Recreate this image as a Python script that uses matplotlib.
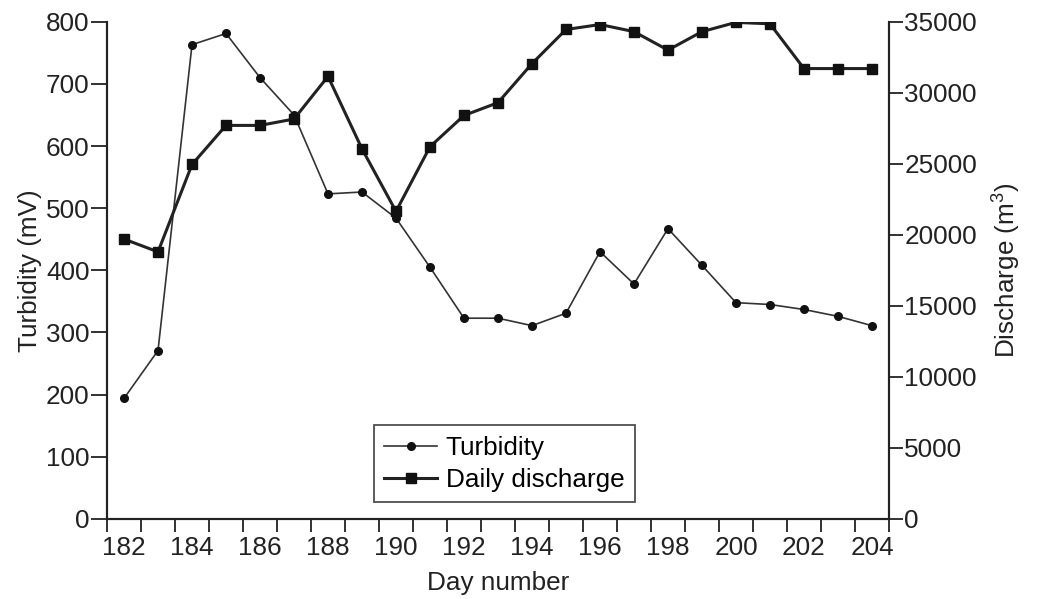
import numpy as np
import matplotlib
matplotlib.use('Agg')
import matplotlib.pyplot as plt
from matplotlib.ticker import MultipleLocator

plt.rcParams['font.family'] = ['Liberation Sans', 'DejaVu Sans']
plt.rcParams['mathtext.default'] = 'regular'

# day numbers, one reading per day
days = list(range(182, 205))

# turbidity in mV (left axis)
turbidity = [194, 271, 763, 781, 710, 650, 523, 526, 484, 405, 323, 323, 311, 331,
             430, 378, 467, 408, 348, 345, 337, 326, 311]

# daily discharge in m3 (right axis)
discharge = [19700, 18800, 24950, 27700, 27700, 28150, 31150, 26050, 21650, 26200,
             28400, 29300, 32050, 34450, 34800, 34300, 33000, 34300, 34950, 34850,
             31700, 31700, 31700]

fs = 18.8
ink = '#222222'

fig = plt.figure(figsize=(10.39, 5.99), dpi=100)
ax = fig.add_axes([0.103, 0.1336, 0.7526, 0.8302])
ax2 = ax.twinx()

l1, = ax.plot(days, turbidity, color='#333333', lw=1.2, marker='o', ms=5.5,
              mfc='#111111', mec='#111111', label='Turbidity')
l2, = ax2.plot(days, discharge, color='#222222', lw=2.2, marker='s', ms=7.5,
               mfc='#111111', mec='#111111', label='Daily discharge')

ax.set_xlim(181.5, 204.5)
ax.set_ylim(0, 800)
ax2.set_ylim(0, 35000)

ax.set_xticks(range(182, 205, 2))
ax.xaxis.set_minor_locator(MultipleLocator(1, offset=0.5))
ax.tick_params(axis='x', which='major', length=0, pad=12, labelsize=fs, colors=ink)
ax.tick_params(axis='x', which='minor', length=13/1.389, width=1.3, direction='out', color=ink)

ax.set_yticks(range(0, 801, 100))
ax.tick_params(axis='y', length=16/1.389, width=1.3, pad=1, labelsize=fs, colors=ink)
ax2.set_yticks(range(0, 35001, 5000))
ax2.tick_params(axis='y', length=14/1.389, width=1.3, pad=1, labelsize=fs, colors=ink)

for a in (ax, ax2):
    a.spines['top'].set_visible(False)
    for s in ('left', 'right', 'bottom'):
        a.spines[s].set_linewidth(1.5)
        a.spines[s].set_color(ink)

ax.set_xlabel('Day number', fontsize=fs, color=ink, labelpad=8)
ax.set_ylabel('Turbidity (mV)', fontsize=fs, color=ink, labelpad=3)
ax2.set_ylabel('Discharge (m$^3$)', fontsize=fs, color=ink, labelpad=10)

leg = ax2.legend(handles=[l1, l2], loc='upper left', bbox_to_anchor=(0.3415, 0.188),
                 fontsize=fs, frameon=True, fancybox=False, edgecolor=ink,
                 handlelength=2.0, handletextpad=0.35, labelspacing=0.3,
                 borderpad=0.4, borderaxespad=0)
leg.get_frame().set_linewidth(1.3)

fig.savefig('out.png', dpi=100)
